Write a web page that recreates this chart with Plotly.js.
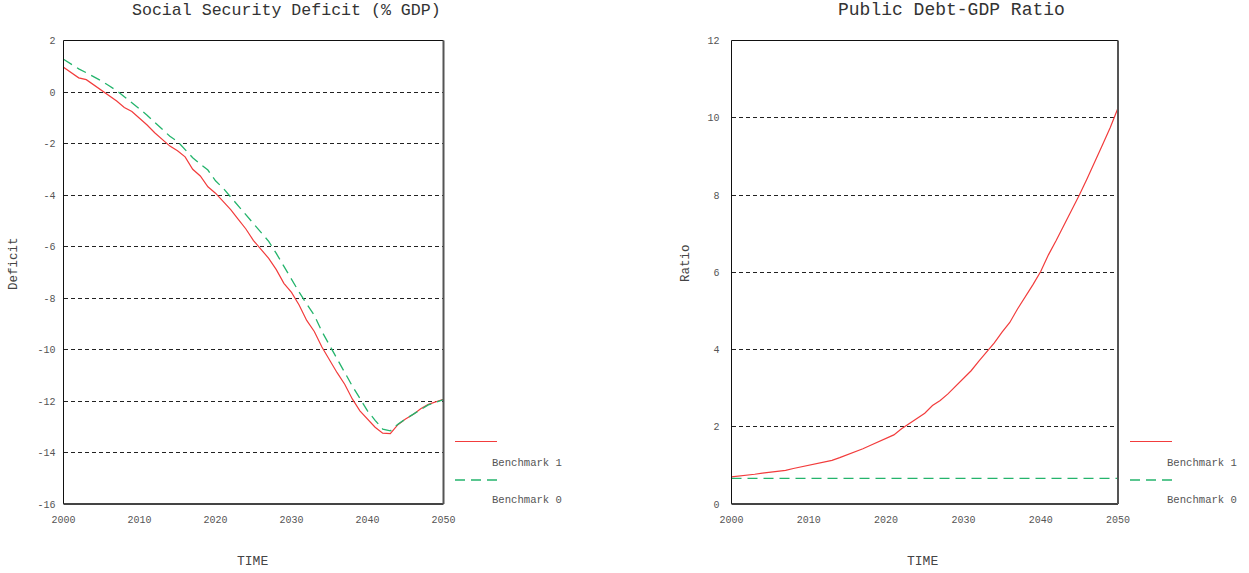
<!DOCTYPE html>
<html>
<head>
<meta charset="utf-8">
<script src="https://cdn.plot.ly/plotly-3.0.1.min.js"></script>
<style>
  html, body { margin: 0; padding: 0; background: #fff; }
  #chart { width: 1249px; height: 573px; }
</style>
</head>
<body>
<div id="chart"></div>
<script>
// Projection years
const years = [
  2000, 2001, 2002, 2003, 2004, 2005, 2006, 2007, 2008, 2009,
  2010, 2011, 2012, 2013, 2014, 2015, 2016, 2017, 2018, 2019,
  2020, 2021, 2022, 2023, 2024, 2025, 2026, 2027, 2028, 2029,
  2030, 2031, 2032, 2033, 2034, 2035, 2036, 2037, 2038, 2039,
  2040, 2041, 2042, 2043, 2044, 2045, 2046, 2047, 2048, 2049,
  2050
];

// Social Security deficit (% GDP)
const deficitBenchmark1 = [
  0.96, 0.75, 0.55, 0.48, 0.27, 0.06, -0.12, -0.35, -0.60, -0.76,
  -1.02, -1.28, -1.58, -1.85, -2.10, -2.28, -2.52, -3.00, -3.26, -3.68,
  -3.93, -4.25, -4.57, -4.95, -5.32, -5.77, -6.10, -6.46, -6.90, -7.43,
  -7.78, -8.27, -8.87, -9.30, -9.90, -10.43, -10.90, -11.35, -11.92, -12.38,
  -12.70, -13.02, -13.25, -13.27, -12.92, -12.70, -12.52, -12.30, -12.13, -12.02,
  -11.93
];
const deficitBenchmark0 = [
  1.27, 1.08, 0.90, 0.75, 0.60, 0.43, 0.24, 0.05, -0.18, -0.42,
  -0.64, -0.90, -1.18, -1.45, -1.72, -1.92, -2.22, -2.55, -2.80, -3.03,
  -3.45, -3.73, -4.08, -4.42, -4.77, -5.10, -5.45, -5.80, -6.27, -6.78,
  -7.28, -7.77, -8.23, -8.67, -9.30, -9.83, -10.38, -10.90, -11.42, -11.90,
  -12.38, -12.75, -13.09, -13.16, -12.90, -12.70, -12.52, -12.33, -12.15, -12.05,
  -11.95
];

// Public debt to GDP ratio
const debtBenchmark1 = [
  0.70, 0.72, 0.74, 0.77, 0.80, 0.82, 0.84, 0.87, 0.92, 0.96,
  1.01, 1.05, 1.09, 1.13, 1.20, 1.27, 1.35, 1.43, 1.52, 1.61,
  1.71, 1.79, 1.95, 2.08, 2.22, 2.35, 2.55, 2.68, 2.85, 3.05,
  3.23, 3.45, 3.70, 3.93, 4.17, 4.45, 4.70, 5.05, 5.35, 5.68,
  6.02, 6.45, 6.82, 7.20, 7.60, 8.00, 8.42, 8.88, 9.30, 9.75,
  10.25
];
const debtBenchmark0 = [
  0.665, 0.665, 0.665, 0.665, 0.665, 0.665, 0.665, 0.665, 0.665, 0.665,
  0.665, 0.665, 0.665, 0.665, 0.665, 0.665, 0.665, 0.665, 0.665, 0.665,
  0.665, 0.665, 0.665, 0.665, 0.665, 0.665, 0.665, 0.665, 0.665, 0.665,
  0.665, 0.665, 0.665, 0.665, 0.665, 0.665, 0.665, 0.665, 0.665, 0.665,
  0.665, 0.665, 0.665, 0.665, 0.665, 0.665, 0.665, 0.665, 0.665, 0.665,
  0.665
];

const seriesNames = ['Benchmark 1', 'Benchmark 0'];
const timeTicks = [2000, 2010, 2020, 2030, 2040, 2050];
const deficitTicks = [2, 0, -2, -4, -6, -8, -10, -12, -14, -16];
const deficitTickLabels = ['2', '0', '-2', '-4', '-6', '-8', '-10', '-12', '-14', '-16'];
const ratioTicks = [0, 2, 4, 6, 8, 10, 12];

// ---- layout helpers (pixel -> paper fraction) ----
const W = 1249, H = 573;
const px = x => x / W;
const py = y => 1 - y / H;

const FONT = '"Liberation Mono", "DejaVu Sans Mono", monospace';
const RED = '#f23c3c';
const GREEN = '#24b46c';
const TEXT = '#444';

const panels = [
  { x0: 63.5, x1: 443.5, legendLine: [455, 497], legendText: 490 },
  { x0: 731.5, x1: 1118, legendLine: [1130, 1172], legendText: 1165 }
];
const yTop = 40.5, yBottom = 504;

const gridStyle = { showgrid: true, gridcolor: '#222', gridwidth: 1, griddash: '4px,3px' };
const tickFont = { family: FONT, size: 10, color: '#555' };

const traces = [
  { x: years, y: deficitBenchmark1, name: seriesNames[0], xaxis: 'x', yaxis: 'y',
    mode: 'lines', line: { color: RED, width: 1.2 } },
  { x: years, y: deficitBenchmark0, name: seriesNames[1], xaxis: 'x', yaxis: 'y',
    mode: 'lines', line: { color: GREEN, width: 1.3, dash: '10px,6px' } },
  { x: years, y: debtBenchmark1, name: seriesNames[0], xaxis: 'x2', yaxis: 'y2',
    mode: 'lines', line: { color: RED, width: 1.2 } },
  { x: years, y: debtBenchmark0, name: seriesNames[1], xaxis: 'x2', yaxis: 'y2',
    mode: 'lines', line: { color: GREEN, width: 1.3, dash: '10px,6px' } }
];

function xAxis(p, anchor) {
  return {
    domain: [px(p.x0), px(p.x1)], anchor: anchor,
    range: [2000, 2050], tickvals: timeTicks,
    showgrid: false, zeroline: false, showline: false,
    ticks: 'outside', ticklen: 6, tickcolor: 'rgba(0,0,0,0)',
    tickfont: tickFont, fixedrange: true
  };
}
function yAxis(anchor, range, ticks, labels, len) {
  return Object.assign({
    domain: [py(yBottom), py(yTop)], anchor: anchor,
    range: range, tickvals: ticks, ticktext: labels,
    zeroline: false, showline: false,
    ticks: 'outside', ticklen: len, tickcolor: 'rgba(0,0,0,0)',
    tickfont: tickFont, fixedrange: true
  }, gridStyle);
}

const shapes = [];
const annotations = [];

panels.forEach(p => {
  // plot frame: thin black top/left, heavier grey bottom/right
  shapes.push({ type: 'line', xref: 'paper', yref: 'paper', x0: px(p.x0), x1: px(p.x1), y0: py(yTop), y1: py(yTop), line: { color: '#111', width: 1 } });
  shapes.push({ type: 'line', xref: 'paper', yref: 'paper', x0: px(p.x0), x1: px(p.x0), y0: py(yTop), y1: py(yBottom), line: { color: '#111', width: 1 } });
  shapes.push({ type: 'line', xref: 'paper', yref: 'paper', x0: px(p.x0), x1: px(p.x1), y0: py(yBottom), y1: py(yBottom), line: { color: '#444', width: 2 } });
  shapes.push({ type: 'line', xref: 'paper', yref: 'paper', x0: px(p.x1), x1: px(p.x1), y0: py(yTop), y1: py(yBottom), line: { color: '#555', width: 2 } });

  // legend samples
  shapes.push({ type: 'line', xref: 'paper', yref: 'paper', x0: px(p.legendLine[0]), x1: px(p.legendLine[1]), y0: py(441.5), y1: py(441.5), line: { color: RED, width: 1.2 } });
  shapes.push({ type: 'line', xref: 'paper', yref: 'paper', x0: px(p.legendLine[0]), x1: px(p.legendLine[1]), y0: py(480), y1: py(480), line: { color: GREEN, width: 1.3, dash: '10px,6px' } });
  annotations.push({ xref: 'paper', yref: 'paper', x: px(p.legendText), y: py(463), xanchor: 'left', yanchor: 'middle', showarrow: false, text: seriesNames[0], font: { family: FONT, size: 10.6, color: '#555' } });
  annotations.push({ xref: 'paper', yref: 'paper', x: px(p.legendText), y: py(499.5), xanchor: 'left', yanchor: 'middle', showarrow: false, text: seriesNames[1], font: { family: FONT, size: 10.6, color: '#555' } });
});

// titles and axis titles
annotations.push({ xref: 'paper', yref: 'paper', x: px(286.5), y: py(10), xanchor: 'center', yanchor: 'middle', showarrow: false, text: 'Social Security Deficit (% GDP)', font: { family: FONT, size: 16.6, color: '#333' } });
annotations.push({ xref: 'paper', yref: 'paper', x: px(951.5), y: py(10), xanchor: 'center', yanchor: 'middle', showarrow: false, text: 'Public Debt-GDP Ratio', font: { family: FONT, size: 18, color: '#333' } });
annotations.push({ xref: 'paper', yref: 'paper', x: px(252), y: py(561), xanchor: 'center', yanchor: 'middle', showarrow: false, text: 'TIME', font: { family: FONT, size: 13, color: TEXT } });
annotations.push({ xref: 'paper', yref: 'paper', x: px(923), y: py(561), xanchor: 'center', yanchor: 'middle', showarrow: false, text: 'TIME', font: { family: FONT, size: 13, color: TEXT } });
annotations.push({ xref: 'paper', yref: 'paper', x: px(14), y: py(263), xanchor: 'center', yanchor: 'middle', showarrow: false, textangle: -90, text: 'Deficit', font: { family: FONT, size: 12.5, color: TEXT } });
annotations.push({ xref: 'paper', yref: 'paper', x: px(686), y: py(263), xanchor: 'center', yanchor: 'middle', showarrow: false, textangle: -90, text: 'Ratio', font: { family: FONT, size: 12.5, color: TEXT } });

const layout = {
  width: W, height: H,
  margin: { l: 0, r: 0, t: 0, b: 0, pad: 0 },
  paper_bgcolor: '#fff', plot_bgcolor: '#fff',
  showlegend: false,
  xaxis: xAxis(panels[0], 'y'),
  yaxis: yAxis('x', [-16, 2], deficitTicks, deficitTickLabels, 5),
  xaxis2: xAxis(panels[1], 'y2'),
  yaxis2: yAxis('x2', [0, 12], ratioTicks, ratioTicks.map(String), 9),
  shapes: shapes,
  annotations: annotations,
  hovermode: false
};

Plotly.newPlot('chart', traces, layout, { displayModeBar: false, staticPlot: true });
</script>
</body>
</html>
